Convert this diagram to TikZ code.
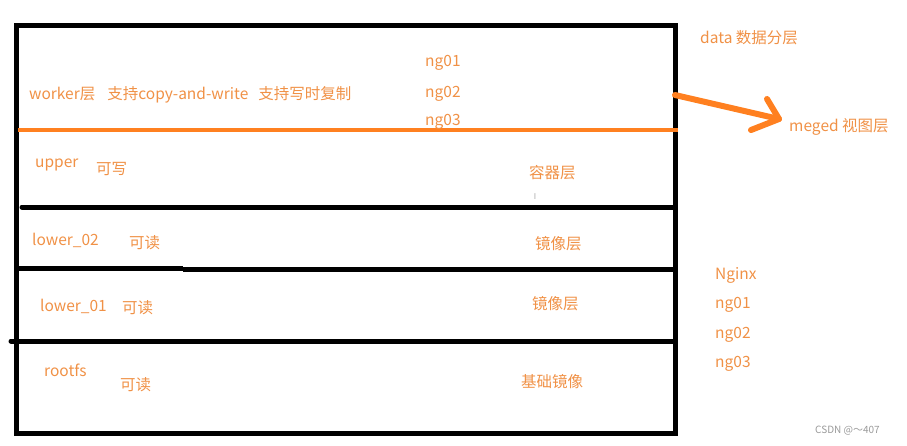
\documentclass[tikz,border=0pt]{standalone}
\usepackage{fontspec}
\setmainfont{Noto Sans CJK SC}
\definecolor{txtor}{RGB}{240,145,70}
\definecolor{lineor}{RGB}{255,128,32}
\begin{document}
\begin{tikzpicture}[x=1pt,y=-1pt,
  lbl/.style={text=txtor,font=\fontsize{15.5}{17}\selectfont,anchor=west,inner sep=0pt},
  blk/.style={line width=5pt,black},
  orl/.style={line width=4pt,lineor}]
\useasboundingbox (0,0) rectangle (907,445);
% outer box
\draw[blk] (16,25) rectangle (675,433);
% layer separators
\draw[orl] (18,130) -- (678,130);
\draw[blk,line cap=round] (22,207) -- (675,207);
\draw[blk] (16,268) -- (183,268);
\draw[blk] (183,269.5) -- (675,269.5);
\draw[blk,line cap=round] (11,341) -- (675,341);
% arrow
\coordinate (a0) at (675,95);
\coordinate (a1) at (779,119);
\draw[lineor,line width=6pt,line cap=round,line join=round] (a0) -- (a1);
\draw[lineor,line width=6pt,line cap=round,line join=round] (767,99) -- (a1) -- (751,130);
% labels
\node[lbl] (w) at (29,95) {worker层\hspace{12pt}支持copy-and-write\hspace{10pt}支持写时复制};
\node[lbl] (n1) at (425,63) {ng01};
\node[lbl] (n2) at (425,94) {ng02};
\node[lbl] (n3) at (425,122) {ng03};
\node[lbl] (data) at (700,38) {data 数据分层};
\node[lbl] (meg) at (789,127) {meged 视图层};
\node[lbl] (up) at (35,165) {upper};
\node[lbl] (kx) at (96,169) {可写};
\node[lbl] (rq) at (529,173) {容器层};
\node[text=gray!70,font=\fontsize{8}{9}\selectfont,inner sep=0pt] (cur) at (535,197) {I};
\node[lbl] (l2) at (32,240) {lower\_02};
\node[lbl] (kd2) at (129,243) {可读};
\node[lbl] (jx2) at (535,244) {镜像层};
\node[lbl] (l1) at (40,306) {lower\_01};
\node[lbl] (kd1) at (122,308) {可读};
\node[lbl] (jx1) at (532,304) {镜像层};
\node[lbl] (rf) at (44,370) {rootfs};
\node[lbl] (kd0) at (120,385) {可读};
\node[lbl] (jc) at (521,382) {基础镜像};
\node[lbl] (ngx) at (715,275) {Nginx};
\node[lbl] (m1) at (715,305) {ng01};
\node[lbl] (m2) at (715,335) {ng02};
\node[lbl] (m3) at (715,364) {ng03};
\node[text=gray!80,font=\fontsize{10}{11}\selectfont,anchor=west,inner sep=0pt] (csdn) at (815,431) {CSDN @～407};
\end{tikzpicture}
\end{document}
